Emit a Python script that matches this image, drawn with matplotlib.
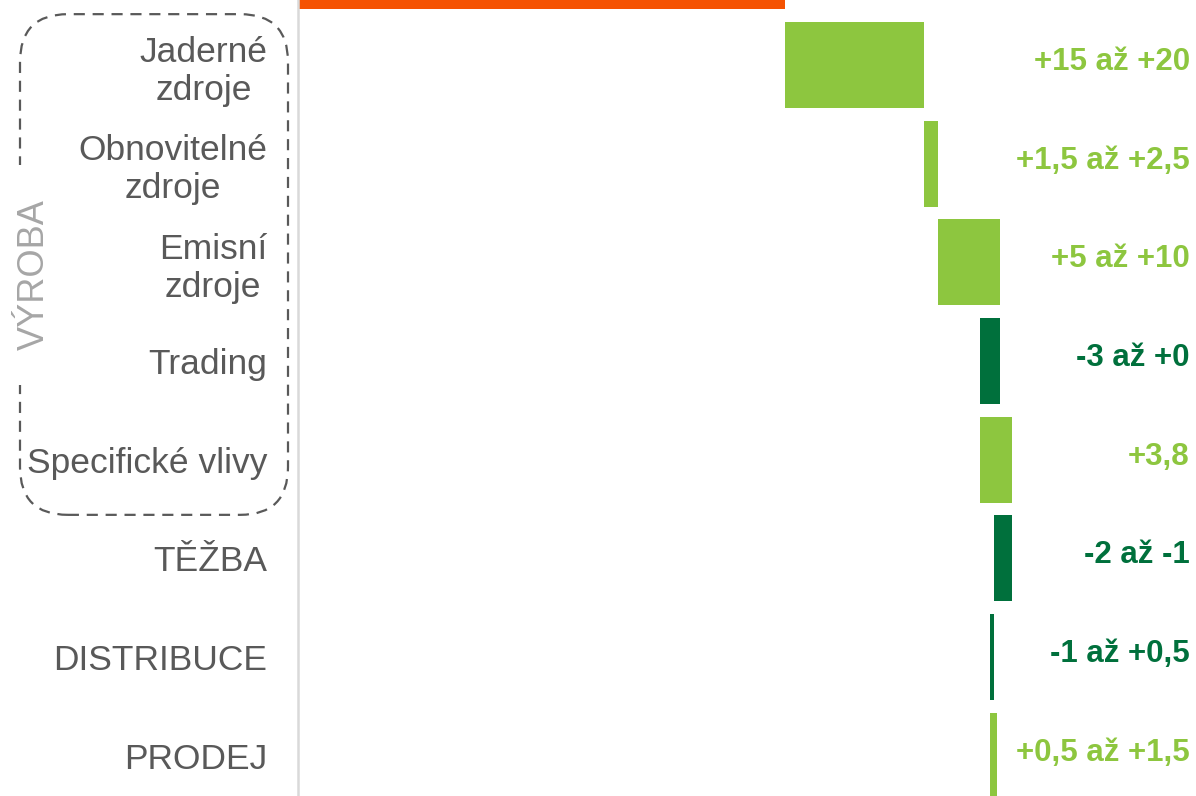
import matplotlib.pyplot as plt
import numpy as np
from matplotlib.patches import FancyBboxPatch, Rectangle

plt.rcParams['font.family'] = ['Liberation Sans', 'DejaVu Sans']

# rows from top to bottom, first row is the starting total
categories = ['', 'Jaderné\nzdroje', 'Obnovitelné\nzdroje', 'Emisní\nzdroje', 'Trading',
              'Specifické vlivy', 'TĚŽBA', 'DISTRIBUCE', 'PRODEJ']
start_value = 58.9
deltas = [16.9, 1.7, 7.5, -2.4, 3.8, -2.1, -0.5, 0.8]
range_labels = ['+15 až +20', '+1,5 až +2,5', '+5 až +10', '-3 až +0', '+3,8',
                '-2 až -1', '-1 až +0,5', '+0,5 až +1,5']

ORANGE = '#F55302'
LIGHT = '#8DC63F'
DARK = '#00703C'
GREY = '#595959'

lefts = [0.0]
widths = [start_value]
running = start_value
for d in deltas:
    lefts.append(running)
    widths.append(d)
    running += d
colors = [ORANGE] + [LIGHT if d > 0 else DARK for d in deltas]

fig = plt.figure(figsize=(11.96, 7.96), dpi=100)
ax = fig.add_axes([298 / 1196, 0, 898 / 1196, 1])

y = np.arange(len(categories))
ax.barh(y, widths, left=lefts, height=0.87, color=colors, edgecolor='none')

for s in ['top', 'right', 'bottom']:
    ax.spines[s].set_visible(False)
ax.spines['left'].set_color('#d9d9d9')
ax.spines['left'].set_linewidth(1.8)
ax.set_xticks([])

ax.set_yticks(y)
ax.set_yticklabels(categories, fontsize=25.5, color=GREY)
ax.tick_params(axis='y', which='major', length=0, pad=22)
for lbl in ax.get_yticklabels():
    lbl.set_multialignment('center')
# small white notches through the axis line
ax.set_yticks(y + 0.18, minor=True)
ax.tick_params(axis='y', which='minor', length=5, width=2, color='white', direction='inout')

# limits after the ticks, so the ticks don't widen them
ax.set_xlim(0, 108.7)
ax.set_ylim(8.41, 0.34)

# value ranges on the right
for i, txt in enumerate(range_labels):
    c = LIGHT if deltas[i] > 0 else DARK
    ax.text(0.9933, y[i + 1] - 0.03, txt, transform=ax.get_yaxis_transform(), ha='right', va='center',
            fontsize=22.5, fontweight='bold', color=c)

# dashed box round the production group
box = FancyBboxPatch((20 / 1196 + 0.04, 1 - 515 / 796 + 0.0603), (268 / 1196) - 0.08, (501 / 796) - 0.1206,
                     boxstyle='round,pad=0.04', transform=fig.transFigure, fill=False,
                     edgecolor=GREY, linewidth=1.6, linestyle=(0, (5, 3.5)), mutation_aspect=1196 / 796,
                     zorder=1)
fig.add_artist(box)
# open the left side of the box for the group title
fig.add_artist(Rectangle((8 / 1196, 1 - 385 / 796), 40 / 1196, 220 / 796, transform=fig.transFigure,
                         facecolor='white', edgecolor='none', zorder=2))
fig.text(34 / 1196, 1 - 275 / 796, 'VÝROBA', rotation=90, ha='center', va='center',
         fontsize=26, color='#a6a6a6', zorder=3)

fig.savefig('out.png', dpi=100)
